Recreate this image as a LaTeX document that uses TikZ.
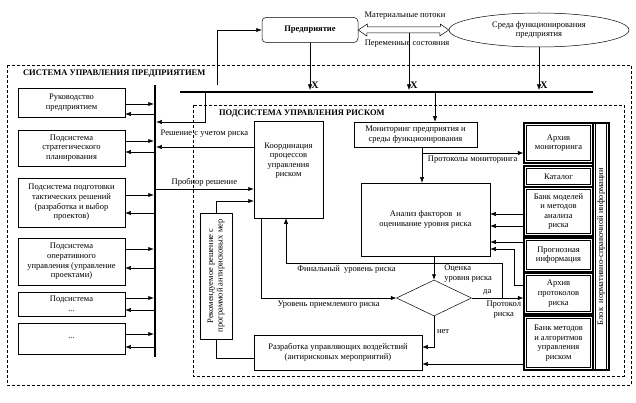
\documentclass[tikz,border=0pt]{standalone}
\usepackage{fontspec}
\setmainfont{Liberation Serif}
\usetikzlibrary{shapes.geometric,arrows.meta}

\begin{document}
\fontsize{8.5}{9.6}\selectfont
\begin{tikzpicture}[x=1pt,y=-1pt,->,>={Latex[length=5.5pt,width=4.2pt]},line width=0.5pt,
    blk/.style={draw,align=center,inner sep=1pt},
    bank/.style={draw,line width=1.1pt,fill=white,align=center,inner sep=1pt,
                 path picture={\draw[-,line width=0.5pt]
                     ([shift={(2.3pt,-2.3pt)}]path picture bounding box.north west) rectangle
                     ([shift={(-2.3pt,2.3pt)}]path picture bounding box.south east);}},
    bus/.style={-,line width=2.5pt},
    frame/.style={-,dash pattern=on 3pt off 2pt},
    xl/.style={anchor=south west,font=\fontsize{10}{12}\selectfont\bfseries,inner sep=1pt},
    tobus/.style={shorten >=1.25pt}]
        \useasboundingbox (0,0) rectangle (636,403);

        % enterprise and its environment
        \node[blk,rounded corners=4pt,minimum width=96,minimum height=25,font=\bfseries] (pr) at (310,30) {Предприятие};
        \node[draw,ellipse,minimum width=180,minimum height=34,inner sep=0pt,align=center] (sreda) at (539,30) {Среда функционирования\\предприятия};
        \node (mat) at (405,16) {Материальные потоки};
        \node (per) at (407,44) {Переменные состояния};
        \draw[-] (pr.east) -- ++(9,-6) -- ++(0,3) -- ++(73,0) -- ++(0,-3) -- (sreda.west)
                 -- ++(-9,6) -- ++(0,-3) -- ++(-73,0) -- ++(0,3) -- cycle;
        \coordinate (potok) at (409,33);

        % frames
        \draw[frame] (7,65) rectangle (631,385);
        \node[anchor=west,font=\bfseries] (sys) at (20,74) {СИСТЕМА УПРАВЛЕНИЯ ПРЕДПРИЯТИЕМ};
        \draw[frame] (193,105) rectangle (624,376);
        \node[anchor=west,font=\bfseries] (risk) at (216,114) {ПОДСИСТЕМА УПРАВЛЕНИЯ РИСКОМ};

        % buses
        \coordinate (vb) at (155,85);
        \coordinate (vbe) at (155,357);
        \coordinate (hb) at (180,92);
        \coordinate (hbe) at (593,92);
        \draw[bus] (vb) -- (vbe);
        \draw[bus] (hb) -- (hbe);

        % management subsystems
        \node[blk,minimum width=107,minimum height=29] (r1) at (71.5,102.5) {Руководство\\предприятием};
        \node[blk,minimum width=107,minimum height=36] (r2) at (71.5,148) {Подсистема\\стратегического\\планирования};
        \node[blk,minimum width=107,minimum height=49] (r3) at (71.5,202.5) {Подсистема подготовки\\тактических решений\\(разработка и выбор\\проектов)};
        \node[blk,minimum width=107,minimum height=47] (r4) at (71.5,261.5) {Подсистема\\оперативного\\управления (управление\\проектами)};
        \node[blk,minimum width=107,minimum height=24] (r5) at (71.5,304) {Подсистема\\...};
        \node[blk,minimum width=107,minimum height=31] (r6) at (71.5,338.5) {...};

        % risk subsystem
        \node[blk,minimum width=69,minimum height=97] (koord) at (288.5,169.5) {Координация\\процессов\\управления\\риском\\[10pt]};
        \node[blk,rotate=90,minimum width=126,minimum height=32] (rek) at (216,276) {Рекомендуемое решение с\\программой антирисковых мер};
        \node[blk,minimum width=168,minimum height=35] (razr) at (338,352.5) {Разработка управляющих воздействий\\(антирисковых мероприятий)};
        \node[blk,minimum width=123,minimum height=25] (monit) at (415.5,134.5) {Мониторинг предприятия и\\среды функционирования};
        \node[blk,minimum width=129,minimum height=73] (analiz) at (425.5,219.5) {Анализ факторов\ \ и\\оценивание уровня риска};
        \node[draw,diamond,minimum width=75,minimum height=36,inner sep=0pt] (diam) at (434,298) {};
        \node[anchor=north west,align=left,inner sep=0pt] (ocen) at (444,265) {Оценка\\уровня риска};

        % data banks
        \node[bank,minimum width=69,minimum height=40] (arhm) at (558.5,143) {Архив\\мониторинга};
        \node[bank,minimum width=69,minimum height=21] (katal) at (558.5,176.5) {Каталог};
        \node[bank,minimum width=69,minimum height=49] (bmod) at (558.5,211.5) {Банк моделей\\и методов\\анализа\\риска};
        \node[bank,minimum width=69,minimum height=34] (prog) at (558.5,255) {Прогнозная\\информация};
        \node[bank,minimum width=69,minimum height=41] (arhp) at (558.5,293.5) {Архив\\протоколов\\риска};
        \node[bank,minimum width=69,minimum height=54] (bmet) at (558.5,343) {Банк методов\\и алгоритмов\\управления\\риском};
        \node[bank,rotate=90,minimum width=247,minimum height=16] (blok) at (601,246.5) {Блок\ \ нормативно-справочной информации};

        % inputs X
        \draw (pr.south) -- (pr.south |- 0,90) node[xl] {X};
        \draw (potok) -- (potok |- 0,90) node[xl] {X};
        \draw (sreda.south) -- (sreda.south |- 0,90) node[xl] {X};

        % links with the bus
        \foreach \bx/\ya/\yb in {r1/104/114,r2/141/152,r3/195/213,r4/249/268,r5/298/310,r6/334/347}{
            \draw[tobus] (\bx.east |- 0,\ya) -- (vb |- 0,\ya);
            \draw (vb |- 0,\yb) -- (\bx.east |- 0,\yb);
        }
        \draw (vb -| 217,0) |- (pr.west);
        \draw[tobus] (hb -| 205,0) |- (vb |- 0,122);
        \draw[tobus] (koord.west |- 0,147) -- (vb |- 0,147) node[midway,above=7pt] {Решение с учетом риска};
        \draw (vb |- 0,189) -- (koord.west |- 0,189) node[midway,above] {Пробнор решение};

        % risk loop
        \draw (hb -| 435,0) -- (monit.north -| 435,0);
        \draw (monit.south -| 422,0) -- (analiz.north -| 422,0);
        \draw (monit.south -| 422,0) |- (arhm.west |- 0,153) node[pos=0.75,below] {Протоколы мониторинга};
        \foreach \bx/\ya in {bmod/214,bmod/226,prog/242}
            \draw (\bx.west |- 0,\ya) -- (analiz.east |- 0,\ya);
        \draw (arhp.west |- 0,285) -- (514,285) |- (analiz.east |- 0,249);
        \draw (analiz.south -| diam.north) -- (diam.north);
        \draw (diam.east) -- (arhp.west |- diam.east) node[pos=0.3,above] {да}
              node[pos=0.62,below,align=center] {Протокол\\риска};
        \draw (diam.east -| 502,0) -- (502,263) -| (koord.south -| 286,0)
              node[pos=0.36,below] {Финальный\ \ уровень риска};
        \draw (koord.south -| 261,0) |- (diam.west) node[pos=0.75,below] {Уровень приемлемого риска};
        \draw (diam.south) |- (razr.east |- 0,347) node[pos=0.25,right] {нет};
        \draw (bmet.west |- 0,364) -- (razr.east |- 0,364);
        \draw[-] (razr.west |- 0,358) -| (rek.west);
        \draw (rek.east) |- (koord.west |- 0,201);
\end{tikzpicture}
\end{document}
